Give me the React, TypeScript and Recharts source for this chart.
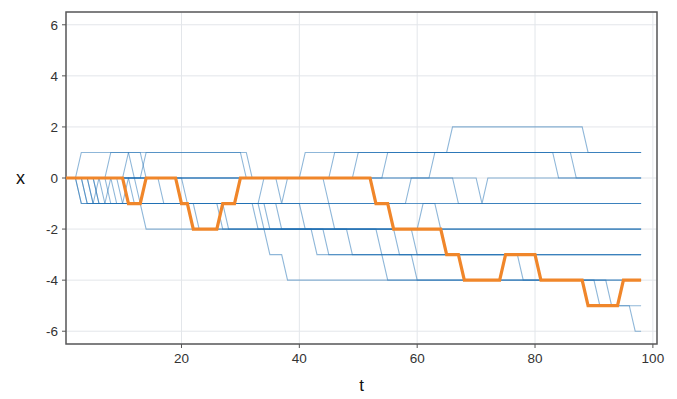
import { LineChart, Line, XAxis, YAxis, CartesianGrid, ReferenceArea } from 'recharts'

// x axis ticks / y axis ticks
const tTicks = [20, 40, 60, 80, 100]
const xTicks = [-6, -4, -2, 0, 2, 4, 6]

// random walks, stored as corner points [t, x]
const walk01 = [[0, 0], [2, 0], [3, 1], [31, 1], [32, 0], [45, 0], [46, 1], [65, 1], [66, 2], [88, 2], [89, 1], [98, 1]]
const walk02 = [[0, 0], [7, 0], [8, 1], [11, 1], [12, 0], [40, 0], [41, 1], [83, 1], [84, 0], [98, 0]]
const walk03 = [[0, 0], [10, 0], [11, 1], [13, 1], [14, 0], [49, 0], [50, 1], [98, 1]]
const walk04 = [[0, 0], [13, 0], [14, 1], [30, 1], [31, 0], [54, 0], [55, 1], [86, 1], [87, 0], [98, 0]]
const walk05 = [[0, 0], [3, 0], [4, -1], [5, -1], [6, 0], [62, 0], [63, 1], [98, 1]]
const walk06 = [[0, 0], [5, 0], [6, -1], [7, -1], [8, 0], [20, 0], [21, -1], [98, -1]]
const walk07 = [[0, 0], [8, 0], [9, -1], [10, -1], [11, 0], [36, 0], [37, -1], [38, 0], [70, 0], [71, -1], [72, 0], [98, 0]]
const walk08 = [[0, 0], [2, 0], [3, -1], [33, -1], [34, 0], [44, 0], [45, -1], [98, -1]]
const walk09 = [[0, 0], [16, 0], [17, -1], [58, -1], [59, 0], [66, 0], [67, -1], [98, -1]]
const walk10 = [[0, 0], [3, 0], [4, -1], [13, -1], [14, -2], [98, -2]]
const walk11 = [[0, 0], [5, 0], [6, -1], [32, -1], [33, -2], [98, -2]]
const walk12 = [[0, 0], [12, 0], [13, -1], [45, -1], [46, -2], [60, -2], [61, -1], [63, -1], [64, -2], [98, -2]]
const walk13 = [[0, 0], [6, 0], [7, -1], [22, -1], [23, -2], [42, -2], [43, -3], [98, -3]]
const walk14 = [[0, 0], [9, 0], [10, -1], [27, -1], [28, -2], [53, -2], [54, -3], [98, -3]]
const walk15 = [[0, 0], [4, 0], [5, -1], [40, -1], [41, -2], [59, -2], [60, -3], [98, -3]]
const walk16 = [[0, 0], [4, 0], [5, -1], [33, -1], [34, -2], [35, -3], [37, -3], [38, -4], [98, -4]]
const walk17 = [[0, 0], [11, 0], [12, -1], [34, -1], [35, -2], [48, -2], [49, -3], [54, -3], [55, -4], [98, -4]]
const walk18 = [[0, 0], [2, 0], [3, -1], [26, -1], [27, -2], [44, -2], [45, -3], [59, -3], [60, -4], [92, -4], [93, -5], [98, -5]]
const walk19 = [[0, 0], [7, 0], [8, -1], [36, -1], [37, -2], [56, -2], [57, -3], [77, -3], [78, -4], [90, -4], [91, -5], [96, -5], [97, -6], [98, -6]]

// highlighted walk
const walkHighlight = [
  [0, 0], [10, 0], [11, -1], [13, -1], [14, 0], [19, 0], [20, -1], [21, -1], [22, -2],
  [26, -2], [27, -1], [29, -1], [30, 0], [52, 0], [53, -1], [55, -1], [56, -2],
  [64, -2], [65, -3], [67, -3], [68, -4], [74, -4], [75, -3], [80, -3], [81, -4],
  [88, -4], [89, -5], [94, -5], [95, -4], [98, -4],
]

const walks = [
  walk01, walk02, walk03, walk04, walk05, walk06, walk07, walk08, walk09, walk10,
  walk11, walk12, walk13, walk14, walk15, walk16, walk17, walk18, walk19,
]

const toRows = (w: number[][]) => w.map(([t, x]) => ({ t, x }))

const font = '"Liberation Sans", Arial, sans-serif'

export default function App() {
  return (
    <div style={{ width: 677, height: 399, position: 'relative', fontFamily: font }}>
      <style>{`body{margin:0}`}</style>
      <LineChart width={677} height={399} margin={{ top: 12, right: 20, bottom: 0, left: 0 }}>
        <CartesianGrid stroke="#e3e6ea" strokeWidth={1} />
        <XAxis
          dataKey="t"
          type="number"
          domain={[0.4, 100.7]}
          allowDataOverflow
          ticks={tTicks}
          height={55}
          tickSize={4}
          tickMargin={5}
          axisLine={false}
          tickLine={{ stroke: '#555' }}
          tick={{ fill: '#333', fontSize: 13.5, fontFamily: font }}
          label={{ value: 't', position: 'insideBottom', offset: 8, fill: '#111', fontSize: 17, fontFamily: font }}
        />
        <YAxis
          dataKey="x"
          type="number"
          domain={[-6.5, 6.5]}
          allowDataOverflow
          ticks={xTicks}
          width={66}
          tickSize={4}
          tickMargin={4}
          axisLine={false}
          tickLine={{ stroke: '#555' }}
          tick={{ fill: '#333', fontSize: 13.5, fontFamily: font }}
          label={{ value: 'x', position: 'insideLeft', offset: 16, fill: '#111', fontSize: 18, fontFamily: font }}
        />
        {walks.map((w, i) => (
          <Line
            key={i}
            data={toRows(w)}
            dataKey="x"
            type="linear"
            stroke="#1f6fb4"
            strokeOpacity={0.5}
            strokeWidth={1.1}
            dot={false}
            activeDot={false}
            isAnimationActive={false}
          />
        ))}
        <Line
          data={toRows(walkHighlight)}
          dataKey="x"
          type="linear"
          stroke="#f0862a"
          strokeWidth={3.2}
          dot={false}
          activeDot={false}
          isAnimationActive={false}
        />
        <ReferenceArea
          x1={0.4}
          x2={100.7}
          y1={-6.5}
          y2={6.5}
          fill="none"
          stroke="#5a5a5a"
          strokeWidth={1.5}
        />
      </LineChart>
    </div>
  )
}
